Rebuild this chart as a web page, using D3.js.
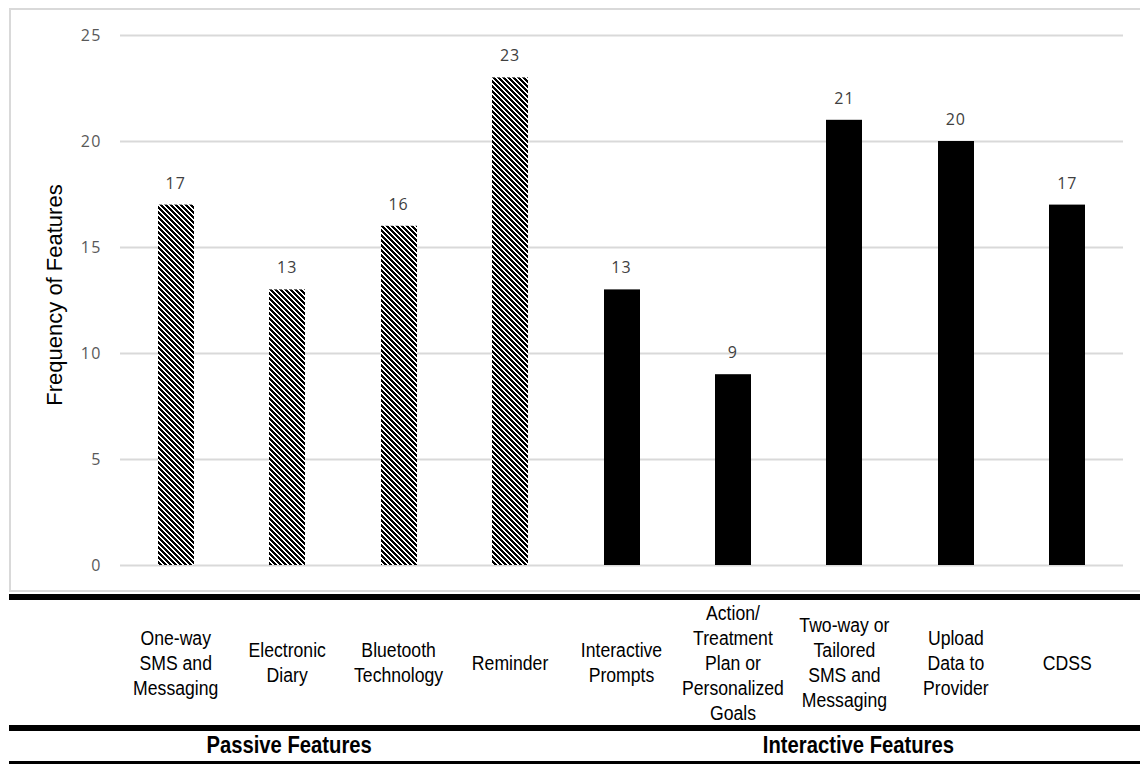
<!DOCTYPE html>
<html>
<head>
<meta charset="utf-8">
<script src="https://cdn.jsdelivr.net/npm/d3@7"></script>
<style>
  html, body { margin: 0; padding: 0; background: #fff; }
  svg { display: block; }
</style>
</head>
<body>
<svg id="chart" width="1140" height="764"></svg>
<script>
const categories = [
  ["One-way", "SMS and", "Messaging"],
  ["Electronic", "Diary"],
  ["Bluetooth", "Technology"],
  ["Reminder"],
  ["Interactive", "Prompts"],
  ["Action/", "Treatment", "Plan or", "Personalized", "Goals"],
  ["Two-way or", "Tailored", "SMS and", "Messaging"],
  ["Upload", "Data to", "Provider"],
  ["CDSS"]
];
const values = [17, 13, 16, 23, 13, 9, 21, 20, 17];
const groups = ["passive", "passive", "passive", "passive", "interactive", "interactive", "interactive", "interactive", "interactive"];
const yTicks = [0, 5, 10, 15, 20, 25];
const groupLabels = [
  { name: "Passive Features", anchorIndex: 1, offset: 2 },
  { name: "Interactive Features", anchorIndex: 6, offset: 14 }
];
const yTitle = "Frequency of Features";

const svg = d3.select("#chart");
const W = 1140, H = 764;
const plot = { left: 120, right: 1123, top: 35, bottom: 565 };

// pattern for passive bars ("\" diagonal stripes)
const P = 5, BLACK = 3;
const defs = svg.append("defs");
const pat = defs.append("pattern")
  .attr("id", "diag")
  .attr("patternUnits", "userSpaceOnUse")
  .attr("width", P).attr("height", P);
pat.append("rect").attr("width", P).attr("height", P).attr("fill", "#fff");
for (let r = 0; r < P; r++) {
  for (let k = 0; k < BLACK; k++) {
    pat.append("rect")
      .attr("x", (r + k) % P).attr("y", r)
      .attr("width", 1).attr("height", 1)
      .attr("fill", "#000")
      .attr("shape-rendering", "crispEdges");
  }
}

// outer chart border
svg.append("rect")
  .attr("x", 10).attr("y", 9)
  .attr("width", W - 9).attr("height", 582)
  .attr("fill", "none")
  .attr("stroke", "#d9d9d9")
  .attr("stroke-width", 2);

const x = d3.scaleBand()
  .domain(d3.range(categories.length))
  .range([plot.left, plot.right])
  .paddingInner(0.68)
  .paddingOuter(0.34);

const y = d3.scaleLinear().domain([0, 25]).range([plot.bottom, plot.top]);

// grid + y axis
const yAxis = d3.axisLeft(y).tickValues(yTicks)
  .tickSize(-(plot.right - plot.left)).tickPadding(18);
const gy = svg.append("g")
  .attr("transform", `translate(${plot.left},0)`)
  .call(yAxis);
gy.select(".domain").remove();
gy.selectAll(".tick line").attr("stroke", "#d9d9d9").attr("stroke-width", 2);
gy.selectAll(".tick text")
  .attr("fill", "#595959")
  .attr("font-family", "'Open Sans', 'Noto Sans', sans-serif")
  .attr("font-size", 16)
  .attr("letter-spacing", 1.5);

// bars
const bw = 36;
svg.append("g").selectAll("rect")
  .data(values)
  .join("rect")
  .attr("x", (d, i) => Math.round(x(i) + x.bandwidth() / 2 - bw / 2))
  .attr("y", d => y(d))
  .attr("width", bw)
  .attr("height", d => y(0) - y(d))
  .attr("fill", (d, i) => groups[i] === "passive" ? "url(#diag)" : "#000");

// value labels
svg.append("g").selectAll("text")
  .data(values)
  .join("text")
  .attr("x", (d, i) => x(i) + x.bandwidth() / 2)
  .attr("y", d => y(d) - 16)
  .attr("text-anchor", "middle")
  .attr("fill", "#404040")
  .attr("font-family", "'Open Sans', 'Noto Sans', sans-serif")
  .attr("font-size", 16)
  .attr("letter-spacing", 1)
  .text(d => d);

// y title
svg.append("text")
  .attr("transform", "translate(62,295) rotate(-90)")
  .attr("text-anchor", "middle")
  .attr("fill", "#000")
  .attr("font-family", "'Liberation Sans', Arial, sans-serif")
  .attr("font-size", 22)
  .text(yTitle);

// table lines
const lines = [
  { y: 594, h: 6 },
  { y: 725, h: 6 },
  { y: 761, h: 3 }
];
svg.append("g").selectAll("rect")
  .data(lines)
  .join("rect")
  .attr("x", 9).attr("y", d => d.y)
  .attr("width", W - 9).attr("height", d => d.h)
  .attr("fill", "#000");

// category labels (condensed Arial look)
const catFont = "'Liberation Sans', Arial, sans-serif";
const cg = svg.append("g");
categories.forEach((lns, i) => {
  const cx = x(i) + x.bandwidth() / 2;
  const t = cg.append("text")
    .attr("transform", `translate(${cx},0) scale(0.84,1)`)
    .attr("text-anchor", "middle")
    .attr("fill", "#000")
    .attr("font-family", catFont)
    .attr("font-size", 21);
  lns.forEach((ln, j) => {
    t.append("tspan")
      .attr("x", 0)
      .attr("y", 670 - (lns.length - 1) / 2 * 25 + j * 25)
      .text(ln);
  });
});

// group labels
svg.append("g").selectAll("text")
  .data(groupLabels)
  .join("text")
  .attr("transform", d => `translate(${x(d.anchorIndex) + x.bandwidth() / 2 + d.offset},753) scale(0.88,1)`)
  .attr("text-anchor", "middle")
  .attr("font-family", catFont)
  .attr("font-weight", "bold")
  .attr("font-size", 23)
  .attr("fill", "#000")
  .text(d => d.name);
</script>
</body>
</html>
